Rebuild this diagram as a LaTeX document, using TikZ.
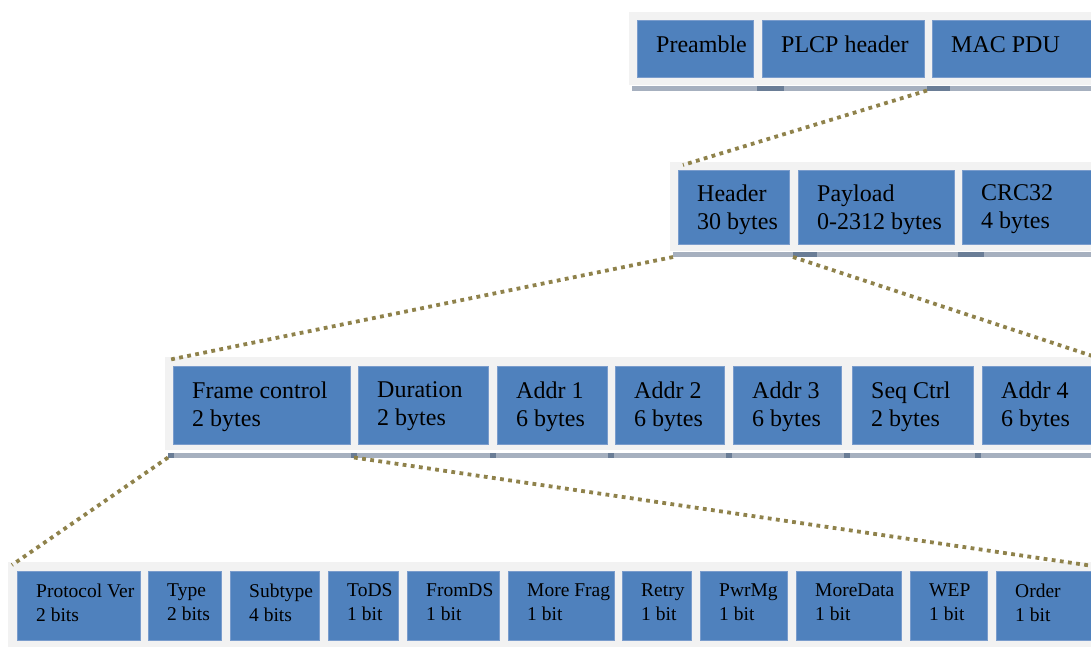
\documentclass[tikz,border=0pt]{standalone}
\usepackage{fontspec}
\setmainfont{Liberation Serif}
\definecolor{panelgray}{RGB}{242,242,242}
\definecolor{fieldblue}{RGB}{79,129,189}
\definecolor{fieldedge}{RGB}{122,156,204}
\definecolor{rulegray}{RGB}{166,176,191}
\definecolor{markgray}{RGB}{106,125,150}
\definecolor{dotolive}{RGB}{143,130,75}
\begin{document}
\begin{tikzpicture}[x=1pt,y=-1pt]
\tikzset{
  sized/.style 2 args={minimum width=#1pt, minimum height=#2pt, inner sep=0pt,
                       outer sep=0pt, anchor=north west},
  panel/.style={fill=panelgray},
  field/.style={fill=fieldblue, draw=fieldedge, line width=0.8pt},
  rulebar/.style={fill=rulegray},
  rulemark/.style={fill=markgray},
  bigtext/.style={font=\fontsize{24}{28}\selectfont},
  smalltext/.style={font=\fontsize{19.5}{24}\selectfont},
  fldtext/.style={anchor=west, xshift=19pt, inner sep=0pt, align=left, text=black},
  dots/.style={draw=dotolive, line width=3.8pt, dash pattern=on 3.8pt off 4.4pt},
}
\useasboundingbox (0,0) rectangle (1091,646);

% ---- PHY frame ----
\node[sized={470}{73}, panel] (p1) at (629,12) {};
\node[sized={116}{57}, field, label={[fldtext,bigtext,yshift=4pt]west:Preamble}] (pre) at (637,20) {};
\node[sized={162}{57}, field, label={[fldtext,bigtext,yshift=4pt]west:PLCP header}] (plcp) at (762,20) {};
\node[sized={168}{57}, field, label={[fldtext,bigtext,yshift=4pt]west:MAC PDU}] (mac) at (932,20) {};
\node[sized={468}{4.5}, rulebar] (r1) at (632,86) {};
\node[sized={27}{4.5}, rulemark] (m11) at (757,86) {};
\node[sized={23}{4.5}, rulemark] (m12) at (927,86) {};

% ---- MAC frame ----
\node[sized={430}{89}, panel] (p2) at (670,162) {};
\node[sized={111}{74}, field, label={[fldtext,bigtext,yshift=-2.5pt]west:Header\\30 bytes}] (hdr) at (678,170) {};
\node[sized={156}{74}, field, label={[fldtext,bigtext,yshift=-2.5pt]west:Payload\\0-2312 bytes}] (pay) at (798,170) {};
\node[sized={138}{74}, field, label={[fldtext,bigtext,yshift=-2.5pt]west:CRC32\\4 bytes}] (crc) at (962,170) {};
\node[sized={427}{5}, rulebar] (r2) at (673,252) {};
\node[sized={24}{5}, rulemark] (m21) at (793,252) {};
\node[sized={26}{5}, rulemark] (m22) at (958,252) {};

% ---- MAC header ----
\node[sized={935}{93}, panel] (p3) at (165,357) {};
\node[sized={177}{78}, field, label={[fldtext,bigtext,yshift=-1.5pt]west:Frame control\\2 bytes}] (fc) at (173,366) {};
\node[sized={130}{78}, field, label={[fldtext,bigtext,yshift=-1.5pt]west:Duration\\2 bytes}] (dur) at (358,366) {};
\node[sized={110}{78}, field, label={[fldtext,bigtext,yshift=-1.5pt]west:Addr 1\\6 bytes}] (ad1) at (497,366) {};
\node[sized={109}{78}, field, label={[fldtext,bigtext,yshift=-1.5pt]west:Addr 2\\6 bytes}] (ad2) at (615,366) {};
\node[sized={108}{78}, field, label={[fldtext,bigtext,yshift=-1.5pt]west:Addr 3\\6 bytes}] (ad3) at (733,366) {};
\node[sized={121}{78}, field, label={[fldtext,bigtext,yshift=-1.5pt]west:Seq Ctrl\\2 bytes}] (seq) at (852,366) {};
\node[sized={118}{78}, field, label={[fldtext,bigtext,yshift=-1.5pt]west:Addr 4\\6 bytes}] (ad4) at (982,366) {};
\node[sized={932}{4.5}, rulebar] (r3) at (168,453) {};
\node[sized={6}{4.5}, rulemark] (m31) at (168,453) {};
\node[sized={6}{4.5}, rulemark] (m32) at (351,453) {};
\node[sized={6}{4.5}, rulemark] (m33) at (489.5,453) {};
\node[sized={6}{4.5}, rulemark] (m34) at (608,453) {};
\node[sized={6}{4.5}, rulemark] (m35) at (726,453) {};
\node[sized={6}{4.5}, rulemark] (m36) at (843.5,453) {};
\node[sized={6}{4.5}, rulemark] (m37) at (974.5,453) {};

% ---- Frame control bits ----
\node[sized={1092}{90}, panel] (p4) at (8,562) {};
\node[sized={123}{69}, field, label={[fldtext,smalltext,yshift=3pt]west:Protocol Ver\\2 bits}] (pv) at (17,571) {};
\node[sized={73}{69}, field, label={[fldtext,smalltext,yshift=3pt]west:Type\\2 bits}] (ty) at (148,571) {};
\node[sized={89}{69}, field, label={[fldtext,smalltext,yshift=3pt]west:Subtype\\4 bits}] (st) at (230,571) {};
\node[sized={70}{69}, field, label={[fldtext,smalltext,yshift=3pt]west:ToDS\\1 bit}] (tods) at (328,571) {};
\node[sized={92}{69}, field, label={[fldtext,smalltext,yshift=3pt]west:FromDS\\1 bit}] (fds) at (407,571) {};
\node[sized={106}{69}, field, label={[fldtext,smalltext,yshift=3pt]west:More Frag\\1 bit}] (mf) at (508,571) {};
\node[sized={69}{69}, field, label={[fldtext,smalltext,yshift=3pt]west:Retry\\1 bit}] (rt) at (622,571) {};
\node[sized={87}{69}, field, label={[fldtext,smalltext,yshift=3pt]west:PwrMg\\1 bit}] (pw) at (700,571) {};
\node[sized={105}{69}, field, label={[fldtext,smalltext,yshift=3pt]west:MoreData\\1 bit}] (md) at (796,571) {};
\node[sized={77}{69}, field, label={[fldtext,smalltext,yshift=3pt]west:WEP\\1 bit}] (wep) at (910,571) {};
\node[sized={104}{69}, field, label={[fldtext,smalltext,yshift=3pt]west:Order\\1 bit}] (ord) at (996,571) {};

% ---- zoom connectors ----
\coordinate (e3) at (1100,358.5);
\coordinate (e5) at (1100,567);
\draw[dots] (m12.south west) -- ([xshift=5pt,yshift=5pt]hdr.north west);
\draw[dots] (r2.south west) -- ([xshift=3pt,yshift=-3pt]p3.north west);
\draw[dots] (m21.south west) -- (e3);
\draw[dots] (m31.south west) -- ([xshift=4pt,yshift=-3pt]p4.north west);
\draw[dots] (m32.south) -- (e5);
\end{tikzpicture}
\end{document}
